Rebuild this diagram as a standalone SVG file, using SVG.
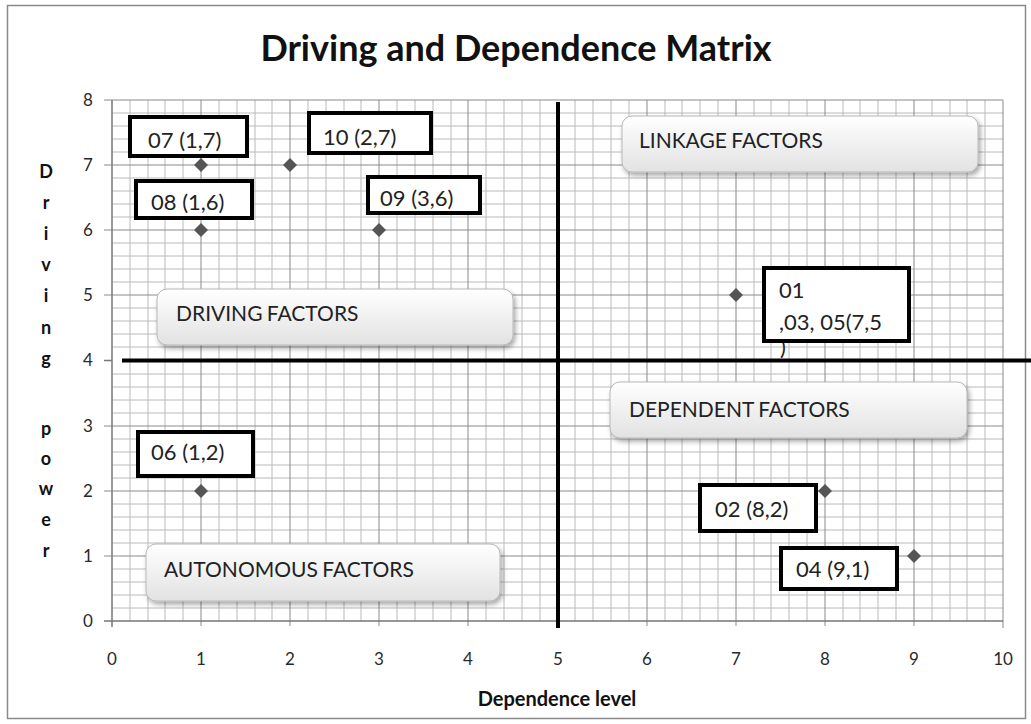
<svg xmlns="http://www.w3.org/2000/svg" width="1031" height="724" viewBox="0 0 1031 724">
  <defs>
    <linearGradient id="catFill" x1="0" y1="0" x2="0" y2="1">
      <stop offset="0" stop-color="#ffffff"/>
      <stop offset="1" stop-color="#e2e2e2"/>
    </linearGradient>
    <filter id="shadow" x="-10%" y="-30%" width="120%" height="170%">
      <feDropShadow dx="2" dy="3" stdDeviation="2.5" flood-color="#000" flood-opacity="0.35"/>
    </filter>
    <path id="pt" d="M0,-7 L7,0 L0,7 L-7,0 Z"/>
  </defs>
  <style>
    .minor { stroke: #bababa; stroke-width: 1; fill: none; }
    .major { stroke: #8a8a8a; stroke-width: 1; fill: none; }
    .thick { stroke: #000; stroke-width: 4; fill: none; }
    .tick { font-family: Lato, "Liberation Sans", sans-serif; font-size: 17px; fill: #2a2a2a; text-anchor: middle; }
    .axttl { font-family: Lato, "Liberation Sans", sans-serif; font-size: 18px; font-weight: bold; fill: #111; text-anchor: middle; }
    .xttl { font-size: 20px; }
    .title { font-family: Lato, "Liberation Sans", sans-serif; font-size: 36px; font-weight: bold; fill: #111; text-anchor: middle; }
    .lbox { fill: #fff; stroke: #000; stroke-width: 4; }
    .ltxt { font-family: Lato, "Liberation Sans", sans-serif; font-size: 22px; fill: #222; }
    .cbox { fill: url(#catFill); stroke: #b8b8b8; stroke-width: 1; filter: url(#shadow); }
    .ctxt { font-family: Lato, "Liberation Sans", sans-serif; font-size: 21px; fill: #222; word-spacing: -1px; }
    .pt { fill: #555; }
  </style>

  <rect x="0" y="0" width="1031" height="724" fill="#fff"/>
  <rect x="7.5" y="5.5" width="1018" height="713" fill="none" stroke="#8a8a8a" stroke-width="1.5"/>

  <text class="title" x="516" y="61">Driving and Dependence Matrix</text>

  <!-- plot grid -->
  <g id="grid">
    <path class="minor" d="M130,100V621M148,100V621M165,100V621M183,100V621M219,100V621M237,100V621M255,100V621M272,100V621M308,100V621M326,100V621M344,100V621M361,100V621M397,100V621M415,100V621M433,100V621M451,100V621M486,100V621M504,100V621M522,100V621M540,100V621M575,100V621M593,100V621M611,100V621M629,100V621M665,100V621M682,100V621M700,100V621M718,100V621M754,100V621M771,100V621M789,100V621M807,100V621M843,100V621M860,100V621M878,100V621M896,100V621M932,100V621M950,100V621M967,100V621M985,100V621"/>
    <path class="minor" d="M112,608H1003M112,595H1003M112,582H1003M112,569H1003M112,543H1003M112,530H1003M112,517H1003M112,504H1003M112,478H1003M112,465H1003M112,452H1003M112,439H1003M112,413H1003M112,400H1003M112,387H1003M112,374H1003M112,347H1003M112,334H1003M112,321H1003M112,308H1003M112,282H1003M112,269H1003M112,256H1003M112,243H1003M112,217H1003M112,204H1003M112,191H1003M112,178H1003M112,152H1003M112,139H1003M112,126H1003M112,113H1003"/>
    <path class="major" d="M201,100V626M290,100V626M379,100V626M468,100V626M647,100V626M736,100V626M825,100V626M914,100V626M1003,100V628"/>
    <path class="major" d="M104,556H1003M104,491H1003M104,426H1003M104,295H1003M104,230H1003M104,165H1003M104,100H1003"/>
    <!-- axes -->
    <path stroke="#777" stroke-width="1.5" fill="none" d="M112,100V627M104,621H1003M104,360.5H112"/>
  </g>

  <!-- quadrant dividers -->
  <g id="dividers">
    <path class="thick" d="M558,102V628"/>
    <path class="thick" d="M122,360.5H1031"/>
  </g>

  <!-- tick labels -->
  <g id="y-ticks">
    <text class="tick" x="88" y="627">0</text>
    <text class="tick" x="88" y="562">1</text>
    <text class="tick" x="88" y="497">2</text>
    <text class="tick" x="88" y="432">3</text>
    <text class="tick" x="88" y="366">4</text>
    <text class="tick" x="88" y="301">5</text>
    <text class="tick" x="88" y="236">6</text>
    <text class="tick" x="88" y="171">7</text>
    <text class="tick" x="88" y="106">8</text>
  </g>
  <g id="x-ticks">
    <text class="tick" x="112" y="665">0</text>
    <text class="tick" x="201" y="665">1</text>
    <text class="tick" x="290" y="665">2</text>
    <text class="tick" x="379" y="665">3</text>
    <text class="tick" x="468" y="665">4</text>
    <text class="tick" x="558" y="665">5</text>
    <text class="tick" x="647" y="665">6</text>
    <text class="tick" x="736" y="665">7</text>
    <text class="tick" x="825" y="665">8</text>
    <text class="tick" x="914" y="665">9</text>
    <text class="tick" x="1003" y="665">10</text>
  </g>

  <text class="axttl xttl" x="557" y="706">Dependence level</text>
  <g id="y-title" class="axttl">
    <text x="46" y="178">D</text>
    <text x="46" y="209">r</text>
    <text x="46" y="240">i</text>
    <text x="46" y="271">v</text>
    <text x="46" y="302">i</text>
    <text x="46" y="334">n</text>
    <text x="46" y="365">g</text>
    <text x="46" y="435">p</text>
    <text x="46" y="465">o</text>
    <text x="46" y="495">w</text>
    <text x="46" y="526">e</text>
    <text x="46" y="557">r</text>
  </g>

  <!-- quadrant names -->
  <g id="linkage">
    <rect class="cbox" x="622" y="116" width="356" height="56" rx="10"/>
    <text class="ctxt" x="639" y="148">LINKAGE FACTORS</text>
  </g>
  <g id="driving">
    <rect class="cbox" x="157" y="289" width="356" height="56" rx="10"/>
    <text class="ctxt" x="176" y="321">DRIVING FACTORS</text>
  </g>
  <g id="dependent">
    <rect class="cbox" x="610" y="382" width="357" height="56" rx="10"/>
    <text class="ctxt" x="629" y="417">DEPENDENT FACTORS</text>
  </g>
  <g id="autonomous">
    <rect class="cbox" x="146" y="544" width="354" height="57" rx="10"/>
    <text class="ctxt" x="164" y="577">AUTONOMOUS FACTORS</text>
  </g>

  <!-- data points -->
  <g id="points" class="pt">
    <use href="#pt" x="201" y="165"/>
    <use href="#pt" x="290" y="165"/>
    <use href="#pt" x="201" y="230"/>
    <use href="#pt" x="379" y="230"/>
    <use href="#pt" x="736" y="295"/>
    <use href="#pt" x="201" y="491"/>
    <use href="#pt" x="825" y="491"/>
    <use href="#pt" x="914" y="556"/>
  </g>

  <!-- point labels -->
  <g id="f07">
    <rect class="lbox" x="130" y="117" width="117" height="39"/>
    <text class="ltxt" x="148" y="148">07 (1,7)</text>
  </g>
  <g id="f10">
    <rect class="lbox" x="309" y="113" width="122" height="40"/>
    <text class="ltxt" x="323" y="145">10 (2,7)</text>
  </g>
  <g id="f08">
    <rect class="lbox" x="136" y="181" width="116" height="37"/>
    <text class="ltxt" x="151" y="210">08 (1,6)</text>
  </g>
  <g id="f09">
    <rect class="lbox" x="368" y="177" width="112" height="36"/>
    <text class="ltxt" x="380" y="206">09 (3,6)</text>
  </g>
  <g id="f01-03-05">
    <!-- overflowing third line, mostly hidden behind the box -->
    <text class="ltxt" x="780" y="355">)</text>
    <rect class="lbox" x="764" y="268" width="145" height="73"/>
    <text class="ltxt" x="779" y="298">01</text>
    <text class="ltxt" x="779" y="330">,03, 05(7,5</text>
  </g>
  <g id="f06">
    <rect class="lbox" x="138" y="432" width="115" height="44"/>
    <text class="ltxt" x="151" y="460">06 (1,2)</text>
  </g>
  <g id="f02">
    <rect class="lbox" x="700" y="485" width="116" height="46"/>
    <text class="ltxt" x="715" y="517">02 (8,2)</text>
  </g>
  <g id="f04">
    <rect class="lbox" x="781" y="548" width="116" height="41"/>
    <text class="ltxt" x="796" y="577">04 (9,1)</text>
  </g>
</svg>
